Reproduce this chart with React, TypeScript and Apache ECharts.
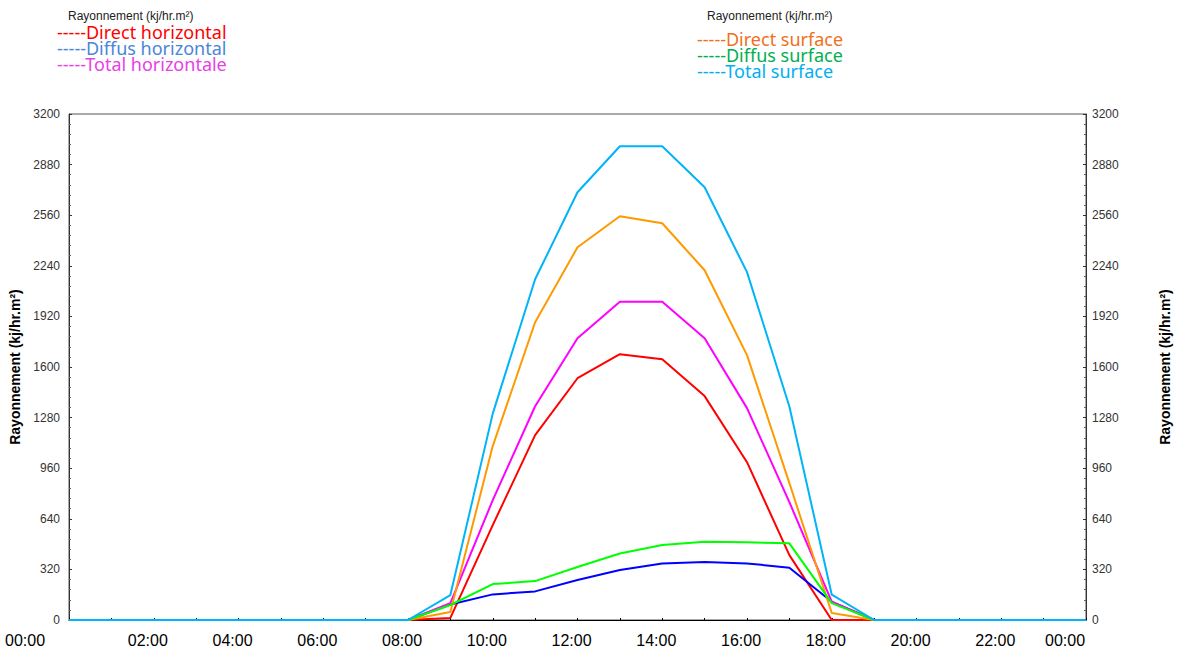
import React, { useEffect, useRef } from "react";
import * as echarts from "echarts";

const hours = [0, 1, 2, 3, 4, 5, 6, 7, 8, 9, 10, 11, 12, 13, 14, 15, 16, 17, 18, 19, 20, 21, 22, 23, 24];

const directHorizontal = [0, 0, 0, 0, 0, 0, 0, 0, 0, 13, 600, 1169, 1529, 1681, 1649, 1416, 998, 410, 0, 0, 0, 0, 0, 0, 0];
const diffusHorizontal = [0, 0, 0, 0, 0, 0, 0, 0, 0, 98, 162, 181, 253, 316, 358, 367, 358, 331, 115, 0, 0, 0, 0, 0, 0];
const totalHorizontale = [0, 0, 0, 0, 0, 0, 0, 0, 0, 107, 758, 1352, 1782, 2012, 2012, 1782, 1340, 745, 116, 0, 0, 0, 0, 0, 0];
const directSurface = [0, 0, 0, 0, 0, 0, 0, 0, 0, 50, 1100, 1883, 2357, 2553, 2509, 2212, 1675, 866, 44, 0, 0, 0, 0, 0, 0];
const diffusSurface = [0, 0, 0, 0, 0, 0, 0, 0, 0, 95, 227, 246, 335, 421, 474, 495, 491, 485, 107, 0, 0, 0, 0, 0, 0];
const totalSurface = [0, 0, 0, 0, 0, 0, 0, 0, 0, 158, 1305, 2155, 2705, 2996, 2996, 2737, 2200, 1350, 160, 0, 0, 0, 0, 0, 0];

const yAxisTitle = "Rayonnement (kj/hr.m²)";
const legendLeft = [
  { label: "Direct horizontal", color: "#ff0000" },
  { label: "Diffus horizontal", color: "#4a86d8" },
  { label: "Total horizontale", color: "#e940e6" },
];
const legendRight = [
  { label: "Direct surface", color: "#f07020" },
  { label: "Diffus surface", color: "#00b050" },
  { label: "Total surface", color: "#00b0f0" },
];

export default function App() {
  const ref = useRef<HTMLDivElement>(null);
  useEffect(() => {
    const chart = echarts.init(ref.current!, null, { renderer: "svg" });
    const mk = (name: string, data: number[], color: string) => ({
      name,
      type: "line",
      data: hours.map((h, i) => [h, data[i]]),
      symbol: "none",
      showSymbol: false,
      lineStyle: { color, width: 2 },
      itemStyle: { color },
      emphasis: { disabled: true },
    });
    const legendBlock = (items: { label: string; color: string }[], x: number, y0: number) => {
      const rich: Record<string, any> = {};
      items.forEach((it, i) => {
        rich["l" + i] = {
          fill: it.color,
          color: it.color,
          fontSize: 18,
          fontFamily: "Noto Sans",
          lineHeight: 16,
        };
      });
      return {
        type: "text",
        left: x,
        top: y0,
        style: {
          text: items.map((it, i) => "{l" + i + "|-----" + it.label + "}").join("\n"),
          rich,
          font: '18px "Noto Sans"',
          lineHeight: 16,
        },
      };
    };
    const labelFont = { fontSize: 16, fontFamily: "Liberation Sans", color: "#000" };
    const yLabel = { fontSize: 12, color: "#333", fontFamily: "Liberation Sans", formatter: (v: number) => String(v) };
    chart.setOption({
      animation: false,
      grid: {
        left: 69,
        right: 97,
        top: 114,
        bottom: 37,
        show: true,
        borderColor: "#555",
        borderWidth: 1,
      },
      xAxis: {
        type: "value",
        min: 0,
        max: 24,
        interval: 2,
        axisLine: { show: true, lineStyle: { color: "#000", width: 1 } },
        axisTick: { show: true, inside: true, length: 2, lineStyle: { color: "#000" } },
        minorTick: { show: true, splitNumber: 2, length: 2, lineStyle: { color: "#000" } },
        splitLine: { show: false },
        axisLabel: {
          showMinLabel: true,
          showMaxLabel: true,
          margin: 12,
          formatter: (v: number) => {
            const s = (v % 24 < 10 ? "0" : "") + (v % 24) + ":00";
            if (v === 0) return "{a|" + s + "}";
            if (v === 24) return "{b|" + s + "}";
            return "{c|" + s + "}";
          },
          rich: {
            a: { ...labelFont, padding: [0, 88, 0, 0] },
            b: { ...labelFont, padding: [0, 42, 0, 0] },
            c: { ...labelFont, padding: [0, 12, 0, 0] },
          },
        },
      },
      yAxis: [
        {
          type: "value",
          position: "left",
          min: 0,
          max: 3200,
          interval: 320,
          name: yAxisTitle,
          nameLocation: "middle",
          nameGap: 45,
          nameTextStyle: { fontSize: 14, fontWeight: "bold", color: "#000", fontFamily: "Liberation Sans" },
          axisLine: { show: true, lineStyle: { color: "#333" } },
          axisTick: { show: true, inside: true, length: 3, lineStyle: { color: "#333" } },
          minorTick: { show: true, splitNumber: 5, length: 2, lineStyle: { color: "#666" } },
          splitLine: { show: false },
          axisLabel: { ...yLabel, margin: 9 },
        },
        {
          type: "value",
          position: "right",
          min: 0,
          max: 3200,
          interval: 320,
          name: yAxisTitle,
          nameLocation: "middle",
          nameGap: 72,
          nameTextStyle: { fontSize: 14, fontWeight: "bold", color: "#000", fontFamily: "Liberation Sans" },
          axisLine: { show: true, lineStyle: { color: "#333" } },
          axisTick: { show: true, inside: true, length: 3, lineStyle: { color: "#333" } },
          minorTick: { show: true, splitNumber: 5, length: 2, lineStyle: { color: "#666" } },
          splitLine: { show: false },
          axisLabel: { ...yLabel, margin: 6 },
        },
      ],
      graphic: [
        {
          type: "text",
          left: 68,
          top: 10,
          style: { text: yAxisTitle, fill: "#222", font: '12px "Liberation Sans"' },
        },
        legendBlock(legendLeft, 57, 23),
        {
          type: "text",
          left: 707,
          top: 10,
          style: { text: yAxisTitle, fill: "#222", font: '12px "Liberation Sans"' },
        },
        legendBlock(legendRight, 697, 30),
      ],
      series: [
        mk("Direct horizontal", directHorizontal, "#ff0000"),
        mk("Diffus horizontal", diffusHorizontal, "#0000ff"),
        mk("Total horizontale", totalHorizontale, "#ff00ff"),
        mk("Direct surface", directSurface, "#ff9900"),
        mk("Diffus surface", diffusSurface, "#00ff00"),
        mk("Total surface", totalSurface, "#00b4f8"),
      ],
    });
    return () => chart.dispose();
  }, []);
  return <div ref={ref} style={{ position: "absolute", left: 0, top: 0, width: 1183, height: 657 }} />;
}
